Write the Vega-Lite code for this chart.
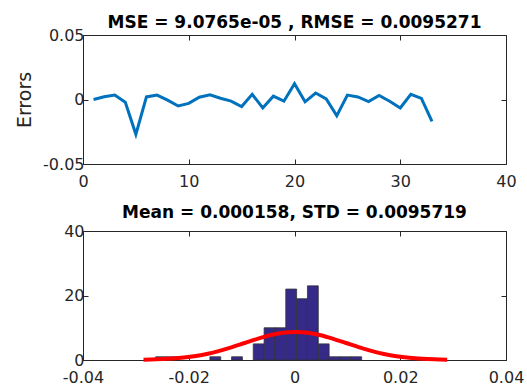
{
  "$schema": "https://vega.github.io/schema/vega-lite/v6.json",
  "background": "white",
  "padding": {"left": 15, "top": 13, "right": 0, "bottom": 0},
  "bounds": "flush",
  "spacing": 67,
  "config": {
    "font": "DejaVu Sans",
    "view": {"stroke": "#262626", "strokeWidth": 1},
    "axis": {
      "domain": false,
      "grid": false,
      "tickSize": -5,
      "tickColor": "#262626",
      "labelColor": "#262626",
      "labelFontSize": 16,
      "labelFont": "DejaVu Sans",
      "labelFlush": false,
      "labelOverlap": false,
      "titleFont": "DejaVu Sans",
      "titleFontWeight": "normal",
      "titleColor": "#262626",
      "titleFontSize": 19
    },
    "title": {"font": "DejaVu Sans", "fontSize": 17, "fontWeight": "bold", "color": "black"}
  },
  "datasets": {
    "errors": [
      {"index": 1, "error": 0.0},
      {"index": 2, "error": 0.0021},
      {"index": 3, "error": 0.0034},
      {"index": 4, "error": -0.0021},
      {"index": 5, "error": -0.027},
      {"index": 6, "error": 0.002},
      {"index": 7, "error": 0.0034},
      {"index": 8, "error": -0.0005},
      {"index": 9, "error": -0.005},
      {"index": 10, "error": -0.003},
      {"index": 11, "error": 0.0018},
      {"index": 12, "error": 0.0037},
      {"index": 13, "error": 0.001},
      {"index": 14, "error": -0.0013},
      {"index": 15, "error": -0.0055},
      {"index": 16, "error": 0.004},
      {"index": 17, "error": -0.0066},
      {"index": 18, "error": 0.0026},
      {"index": 19, "error": -0.0013},
      {"index": 20, "error": 0.0123},
      {"index": 21, "error": -0.0018},
      {"index": 22, "error": 0.005},
      {"index": 23, "error": 0.0005},
      {"index": 24, "error": -0.0126},
      {"index": 25, "error": 0.0034},
      {"index": 26, "error": 0.002},
      {"index": 27, "error": -0.0016},
      {"index": 28, "error": 0.0031},
      {"index": 29, "error": -0.0013},
      {"index": 30, "error": -0.0066},
      {"index": 31, "error": 0.004},
      {"index": 32, "error": 0.0008},
      {"index": 33, "error": -0.017}
    ],
    "hist": [
      {"bin_start": -0.02625, "bin_end": -0.0242, "count": 1},
      {"bin_start": -0.0242, "bin_end": -0.02215, "count": 1},
      {"bin_start": -0.016, "bin_end": -0.01395, "count": 1},
      {"bin_start": -0.0119, "bin_end": -0.00985, "count": 1},
      {"bin_start": -0.0078, "bin_end": -0.00575, "count": 5},
      {"bin_start": -0.00575, "bin_end": -0.0037, "count": 10},
      {"bin_start": -0.0037, "bin_end": -0.00165, "count": 10},
      {"bin_start": -0.00165, "bin_end": 0.0004, "count": 22},
      {"bin_start": 0.0004, "bin_end": 0.00245, "count": 19},
      {"bin_start": 0.00245, "bin_end": 0.0045, "count": 23},
      {"bin_start": 0.0045, "bin_end": 0.00655, "count": 5},
      {"bin_start": 0.00655, "bin_end": 0.0086, "count": 1},
      {"bin_start": 0.0086, "bin_end": 0.01065, "count": 1},
      {"bin_start": 0.01065, "bin_end": 0.0127, "count": 1}
    ],
    "fit": [
      {"x": -0.028558, "density": 0.097},
      {"x": -0.026165, "density": 0.198},
      {"x": -0.023772, "density": 0.382},
      {"x": -0.021379, "density": 0.692},
      {"x": -0.018986, "density": 1.177},
      {"x": -0.016593, "density": 1.882},
      {"x": -0.014201, "density": 2.824},
      {"x": -0.011808, "density": 3.983},
      {"x": -0.009415, "density": 5.277},
      {"x": -0.007022, "density": 6.567},
      {"x": -0.004629, "density": 7.678},
      {"x": -0.002235, "density": 8.432},
      {"x": 0.000158, "density": 8.7},
      {"x": 0.002551, "density": 8.432},
      {"x": 0.004944, "density": 7.678},
      {"x": 0.007337, "density": 6.567},
      {"x": 0.00973, "density": 5.277},
      {"x": 0.012122, "density": 3.983},
      {"x": 0.014515, "density": 2.824},
      {"x": 0.016908, "density": 1.882},
      {"x": 0.019301, "density": 1.177},
      {"x": 0.021694, "density": 0.692},
      {"x": 0.024087, "density": 0.382},
      {"x": 0.02648, "density": 0.198},
      {"x": 0.028874, "density": 0.097}
    ]
  },
  "vconcat": [
    {
      "width": 423,
      "height": 129,
      "title": {"text": "MSE = 9.0765e-05 , RMSE = 0.0095271", "offset": -5},
      "data": {"name": "errors"},
      "layer": [
        {
          "mark": {"type": "line", "color": "#0072BD", "strokeWidth": 3, "strokeJoin": "miter"},
          "encoding": {
            "x": {"field": "index", "type": "quantitative", "scale": {"domain": [0, 40], "nice": false},
                  "axis": {"orient": "bottom", "values": [0, 10, 20, 30, 40], "title": null, "labelPadding": 14}},
            "y": {"field": "error", "type": "quantitative", "scale": {"domain": [-0.05, 0.05], "nice": false},
                  "axis": {"orient": "left", "values": [-0.05, 0, 0.05], "title": "Errors", "titlePadding": 8, "labelPadding": 4,
                           "labelExpr": "replace(format(datum.value, '~g'), '\u2212', '-')"}}
          }
        },
        {
          "mark": {"type": "line", "opacity": 0},
          "encoding": {
            "x": {"field": "index", "type": "quantitative",
                  "axis": {"orient": "top", "values": [0, 10, 20, 30, 40], "title": null, "labels": false}},
            "y": {"field": "error", "type": "quantitative",
                  "axis": {"orient": "right", "values": [-0.05, 0, 0.05], "title": null, "labels": false}}
          }
        }
      ],
      "resolve": {"axis": {"x": "independent", "y": "independent"}}
    },
    {
      "width": 423,
      "height": 129,
      "title": {"text": "Mean = 0.000158, STD = 0.0095719", "offset": 1},
      "layer": [
        {
          "data": {"name": "hist"},
          "mark": {"type": "rect", "fill": "#352A87", "stroke": "#333333", "strokeWidth": 0.8},
          "encoding": {
            "x": {"field": "bin_start", "type": "quantitative", "scale": {"domain": [-0.04, 0.04], "nice": false},
                  "axis": {"orient": "bottom", "values": [-0.04, -0.02, 0, 0.02, 0.04], "title": null, "labelPadding": 14,
                           "labelExpr": "replace(format(datum.value, '~g'), '\u2212', '-')"}},
            "x2": {"field": "bin_end"},
            "y": {"field": "count", "type": "quantitative", "scale": {"domain": [0, 40], "nice": false},
                  "axis": {"orient": "left", "values": [0, 20, 40], "title": null, "labelPadding": 4}},
            "y2": {"datum": 0}
          }
        },
        {
          "data": {"name": "fit"},
          "mark": {"type": "line", "color": "#FF0000", "strokeWidth": 4, "interpolate": "monotone"},
          "encoding": {
            "x": {"field": "x", "type": "quantitative",
                  "axis": {"orient": "top", "values": [-0.04, -0.02, 0, 0.02, 0.04], "title": null, "labels": false}},
            "y": {"field": "density", "type": "quantitative",
                  "axis": {"orient": "right", "values": [0, 20, 40], "title": null, "labels": false}}
          }
        }
      ],
      "resolve": {"axis": {"x": "independent", "y": "independent"}}
    }
  ]
}
